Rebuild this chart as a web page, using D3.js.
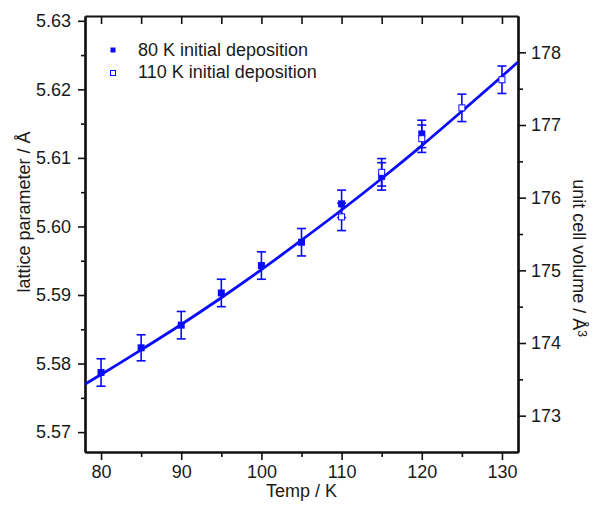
<!DOCTYPE html>
<html>
<head>
<meta charset="utf-8">
<script src="https://cdn.jsdelivr.net/npm/d3@7"></script>
<style>
  body { margin: 0; background: #fff; }
  text { font-family: "Liberation Sans", Arial, sans-serif; fill: #1a1a1a; }
</style>
</head>
<body>
<div id="chart"></div>
<script>
// data
const temp80 = [80, 85, 90, 95, 100, 105, 110, 115, 120];
const latt80 = [5.5787, 5.5823, 5.5856, 5.5903, 5.5943, 5.5977, 5.6033, 5.6073, 5.6135];
const err80 = [0.002, 0.0019, 0.002, 0.002, 0.002, 0.002, 0.002, 0.002, 0.002];

const temp110 = [110, 115, 120, 125, 130];
const latt110 = [5.6014, 5.6079, 5.6128, 5.6173, 5.6214];
const err110 = [0.002, 0.002, 0.002, 0.002, 0.002];

// fitted curve, read at a few temperatures
const fitTemp = [78, 80, 85, 90, 95, 100, 105, 110, 115, 120, 125, 130, 132];
const fitLatt = [5.5770, 5.5784, 5.5820, 5.5857, 5.5896, 5.5937, 5.5980, 5.6024, 5.6070, 5.6118, 5.6168, 5.6219, 5.6240];

const xMajor = [80, 90, 100, 110, 120, 130];
const xMinor = [85, 95, 105, 115, 125];
const yMajor = [5.57, 5.58, 5.59, 5.60, 5.61, 5.62, 5.63];
const yMinor = [5.575, 5.585, 5.595, 5.605, 5.615, 5.625];
const vMajor = [173, 174, 175, 176, 177, 178];
const vMinor = [173.5, 174.5, 175.5, 176.5, 177.5];

const blue = "#0a0aff";

const margin = { top: 16, right: 75, bottom: 55, left: 85 },
    width = 593 - margin.left - margin.right,
    height = 507 - margin.top - margin.bottom;

const svg = d3.select("#chart")
    .append("svg")
    .attr("width", 593)
    .attr("height", 507)
    .append("g")
    .attr("transform", `translate(${margin.left},${margin.top})`);

const x = d3.scaleLinear().domain([78, 132]).range([0, width]);
const y = d3.scaleLinear().domain([5.5671, 5.6307]).range([height, 0]);
const yR = d3.scaleLinear().domain([172.5, 178.5]).range([height, 0]);

function styleAxis(g) {
    g.selectAll("path").attr("stroke", "#111").attr("stroke-width", 2.2);
    g.selectAll("line").attr("stroke", "#111").attr("stroke-width", 1.6);
    g.selectAll("text").style("font-size", "18px").attr("fill", "#1a1a1a");
}

// bottom axis
svg.append("g")
    .attr("transform", `translate(0,${height})`)
    .call(d3.axisBottom(x).tickValues(xMinor).tickFormat("").tickSize(5).tickSizeOuter(0))
    .call(styleAxis);
svg.append("g")
    .attr("transform", `translate(0,${height})`)
    .call(d3.axisBottom(x).tickValues(xMajor).tickFormat(d3.format("d")).tickSize(8).tickPadding(5).tickSizeOuter(0))
    .call(styleAxis);

// top axis, ticks inward
svg.append("g")
    .call(d3.axisTop(x).tickValues(xMajor.concat(xMinor)).tickFormat("").tickSize(-8).tickSizeOuter(0))
    .call(styleAxis);

// left axis
svg.append("g")
    .call(d3.axisLeft(y).tickValues(yMinor).tickFormat("").tickSize(4).tickSizeOuter(0))
    .call(styleAxis);
svg.append("g")
    .call(d3.axisLeft(y).tickValues(yMajor).tickFormat(d3.format(".2f")).tickSize(7).tickPadding(7).tickSizeOuter(0))
    .call(styleAxis);

// right axis: unit cell volume
svg.append("g")
    .attr("transform", `translate(${width},0)`)
    .call(d3.axisRight(yR).tickValues(vMinor).tickFormat("").tickSize(5).tickSizeOuter(0))
    .call(styleAxis);
svg.append("g")
    .attr("transform", `translate(${width},0)`)
    .call(d3.axisRight(yR).tickValues(vMajor).tickFormat(d3.format("d")).tickSize(8).tickPadding(5).tickSizeOuter(0))
    .call(styleAxis);

// axis titles
svg.append("text")
    .attr("transform", `translate(${-55},${196}) rotate(-90)`)
    .attr("text-anchor", "middle")
    .style("font-size", "18px")
    .text("lattice parameter /  Å");

const rt = svg.append("text")
    .attr("transform", `translate(${width + 55},${242}) rotate(90)`)
    .attr("text-anchor", "middle")
    .style("font-size", "18px");
rt.append("tspan").text("unit cell volume / Å");
rt.append("tspan").attr("dy", "-0.45em").style("font-size", "12px").text("3");

svg.append("text")
    .attr("x", width / 2)
    .attr("y", height + 45)
    .attr("text-anchor", "middle")
    .style("font-size", "18px")
    .text("Temp / K");

// clip for the fit line
svg.append("clipPath").attr("id", "clip")
    .append("rect").attr("width", width).attr("height", height);

const fitData = fitTemp.map((t, i) => ({ t: t, a: fitLatt[i] }));
svg.append("path")
    .datum(fitData)
    .attr("clip-path", "url(#clip)")
    .attr("fill", "none")
    .attr("stroke", blue)
    .attr("stroke-width", 2.8)
    .attr("d", d3.line().x(d => x(d.t)).y(d => y(d.a)).curve(d3.curveMonotoneX));

const s80 = temp80.map((t, i) => ({ t: t, a: latt80[i], e: err80[i] }));
const s110 = temp110.map((t, i) => ({ t: t, a: latt110[i], e: err110[i] }));

function errorBars(data) {
    const g = svg.append("g").attr("stroke", blue).attr("stroke-width", 1.6);
    g.selectAll(".v").data(data).enter().append("line")
        .attr("x1", d => x(d.t)).attr("x2", d => x(d.t))
        .attr("y1", d => y(d.a - d.e)).attr("y2", d => y(d.a + d.e));
    g.selectAll(".top").data(data).enter().append("line")
        .attr("x1", d => x(d.t) - 4.5).attr("x2", d => x(d.t) + 4.5)
        .attr("y1", d => y(d.a + d.e)).attr("y2", d => y(d.a + d.e));
    g.selectAll(".bot").data(data).enter().append("line")
        .attr("x1", d => x(d.t) - 4.5).attr("x2", d => x(d.t) + 4.5)
        .attr("y1", d => y(d.a - d.e)).attr("y2", d => y(d.a - d.e));
}

errorBars(s80);
errorBars(s110);

svg.append("g").selectAll("rect").data(s80).enter().append("rect")
    .attr("x", d => x(d.t) - 3.5).attr("y", d => y(d.a) - 3.5)
    .attr("width", 7).attr("height", 7)
    .attr("fill", blue);

svg.append("g").selectAll("rect").data(s110).enter().append("rect")
    .attr("x", d => x(d.t) - 3).attr("y", d => y(d.a) - 3)
    .attr("width", 6).attr("height", 6)
    .attr("fill", "#fff").attr("stroke", blue).attr("stroke-width", 1);

// legend
const legend = svg.append("g").attr("transform", "translate(28,34)");
legend.append("rect").attr("x", -2.5).attr("y", -2.5).attr("width", 5).attr("height", 5).attr("fill", blue);
legend.append("rect").attr("x", -2.5).attr("y", 20.5).attr("width", 5).attr("height", 5)
    .attr("fill", "#fff").attr("stroke", blue).attr("stroke-width", 1);
legend.append("text").attr("x", 25).attr("y", 6).style("font-size", "18px").text("80 K initial deposition");
legend.append("text").attr("x", 25).attr("y", 28).style("font-size", "18px").text("110 K initial deposition");
</script>
</body>
</html>
